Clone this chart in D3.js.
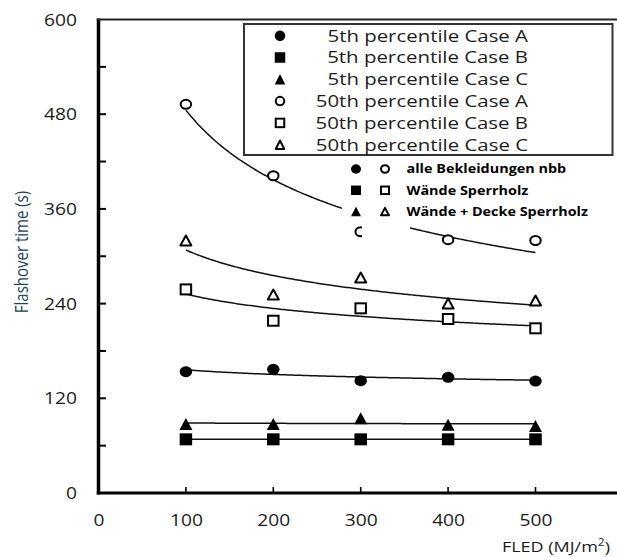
<!DOCTYPE html>
<html>
<head>
<meta charset="utf-8">
<script src="https://cdn.jsdelivr.net/npm/d3@7"></script>
<style>
  html, body { margin: 0; padding: 0; background: #fff; }
  svg { display: block; font-family: "Open Sans", "DejaVu Sans", sans-serif; }
</style>
</head>
<body>
<svg id="chart" width="617" height="557" viewBox="0 0 617 557"></svg>
<script>
// Fire load density (MJ/m²) at which the flashover times were evaluated
const fled = [100, 200, 300, 400, 500];

// Flashover times (s) per case
const p5CaseA  = [153.7, 156.7, 142.3, 146.6, 141.9];
const p5CaseB  = [68, 68, 68, 68, 68];
const p5CaseC  = [87.4, 87.4, 94.6, 86.5, 84.9];
const p50CaseA = [492.5, 402, 331, 321, 320];
const p50CaseB = [258, 218.3, 234, 220.5, 208.7];
const p50CaseC = [320, 251.5, 273, 240, 244];

// Axis ticks
const yMajorTicks = [0, 120, 240, 360, 480, 600];
const yMinorTicks = [60, 180, 300, 420, 540];
const xTickMarks  = [100, 200, 300, 400, 500];
const xTickLabels = [0, 100, 200, 300, 400, 500];

// Legend texts
const legendLabels = [
  "5th percentile Case A", "5th percentile Case B", "5th percentile Case C",
  "50th percentile Case A", "50th percentile Case B", "50th percentile Case C"
];
const groupLabels = ["alle Bekleidungen nbb", "Wände Sperrholz", "Wände + Decke Sperrholz"];

const series = [
  { values: p5CaseA,  shape: "circle",   filled: true  },
  { values: p5CaseB,  shape: "square",   filled: true  },
  { values: p5CaseC,  shape: "triangle", filled: true  },
  { values: p50CaseA, shape: "circle",   filled: false },
  { values: p50CaseB, shape: "square",   filled: false },
  { values: p50CaseC, shape: "triangle", filled: false }
];

const SX = 1.2;           // horizontal glyph stretch
const INK = "#1c1c1c";
const AXIS = "#000000";

const svg = d3.select("#chart");
svg.append("rect").attr("width", 617).attr("height", 557).attr("fill", "#ffffff");

const x = d3.scaleLinear().domain([0, 600]).range([98.5, 622.9]);
const y = d3.scaleLinear().domain([0, 600]).range([493, 19.5]);

// Marker painter: shapes centred on their bounding box
function drawMarker(g, shape, filled, w, h) {
  const sw = filled ? 0 : 2;
  const iw = w - sw, ih = h - sw;
  let el;
  if (shape === "circle") {
    el = g.append("ellipse").attr("rx", iw / 2).attr("ry", ih / 2);
  } else if (shape === "square") {
    el = g.append("rect").attr("x", -iw / 2).attr("y", -ih / 2).attr("width", iw).attr("height", ih);
  } else {
    el = g.append("path")
      .attr("d", `M0,${-ih / 2}L${iw / 2},${ih / 2}L${-iw / 2},${ih / 2}Z`)
      .attr("stroke-linejoin", "round");
  }
  el.attr("fill", filled ? "#000000" : "#ffffff")
    .attr("stroke", filled ? "none" : "#000000")
    .attr("stroke-width", sw);
  return el;
}

const markerSize = {
  circle:   { w: 12.5, h: 11 },
  square:   { w: 12.5, h: 12 },
  triangle: { w: 13,   h: 12 }
};

// Power-law trend line (least squares in log-log space)
function powerFit(xs, ys) {
  const lx = xs.map(Math.log), ly = ys.map(Math.log);
  const mx = d3.mean(lx), my = d3.mean(ly);
  const b = d3.sum(lx, (v, i) => (v - mx) * (ly[i] - my)) / d3.sum(lx, v => (v - mx) ** 2);
  const a = Math.exp(my - b * mx);
  return t => a * Math.pow(t, b);
}

// ---- trend lines
const plot = svg.append("g");
const line = d3.line().x(d => x(d[0])).y(d => y(d[1]));
const xs = d3.range(fled[0], fled[fled.length - 1] + 0.5, 2);
series.forEach(s => {
  const f = powerFit(fled, s.values);
  plot.append("path")
    .attr("d", line(xs.map(t => [t, f(t)])))
    .attr("fill", "none")
    .attr("stroke", "#111111")
    .attr("stroke-width", 1.5);
});

// ---- data markers
series.forEach(s => {
  const sz = markerSize[s.shape];
  s.values.forEach((v, i) => {
    const g = plot.append("g").attr("transform", `translate(${x(fled[i])},${y(v)})`);
    drawMarker(g, s.shape, s.filled, sz.w, sz.h);
  });
});

// ---- axes
const axes = svg.append("g");
const yAxisW = 3.5, xAxisH = 3, topH = 2;

axes.append("rect")       // y axis
  .attr("x", x(0) - yAxisW / 2).attr("y", y(600) - topH / 2)
  .attr("width", yAxisW).attr("height", y(0) - y(600) + topH / 2 + xAxisH / 2)
  .attr("fill", AXIS);
axes.append("rect")       // x axis
  .attr("x", x(0) - yAxisW / 2).attr("y", y(0) - xAxisH / 2)
  .attr("width", x(600) - x(0) + yAxisW / 2).attr("height", xAxisH)
  .attr("fill", AXIS);
axes.append("rect")       // top frame
  .attr("x", x(0) - yAxisW / 2).attr("y", y(600) - topH / 2)
  .attr("width", x(600) - x(0) + yAxisW / 2).attr("height", topH)
  .attr("fill", "#222222");

// inward y ticks
axes.selectAll("rect.ytick")
  .data(yMajorTicks.concat(yMinorTicks).filter(v => v > 0 && v < 600))
  .join("rect").attr("class", "ytick")
  .attr("x", x(0)).attr("width", 7.5)
  .attr("y", d => y(d) - 1).attr("height", 2)
  .attr("fill", AXIS);

// upward x ticks
axes.selectAll("rect.xtick")
  .data(xTickMarks)
  .join("rect").attr("class", "xtick")
  .attr("x", d => x(d) - 0.8).attr("width", 1.6)
  .attr("y", y(0) - 6).attr("height", 6)
  .attr("fill", AXIS);

// y tick labels
const yLabG = axes.append("g").attr("transform", `translate(${x(0)},0)`)
  .call(d3.axisLeft(y).tickValues(yMajorTicks).tickSize(0).tickPadding(0).tickFormat(d3.format("d")));
yLabG.select(".domain").remove();
yLabG.selectAll(".tick line").remove();
yLabG.selectAll("text")
  .attr("x", -21.5 / SX)
  .attr("dy", "0.35em")
  .attr("transform", `scale(${SX},1)`)
  .attr("fill", INK)
  .style("font-size", "16px")
  .style("font-family", "'Open Sans', sans-serif");

// x tick labels
const xLabG = axes.append("g").attr("transform", `translate(0,${y(0)})`)
  .call(d3.axisBottom(x).tickValues(xTickLabels).tickSize(0).tickFormat(d3.format("d")));
xLabG.select(".domain").remove();
xLabG.selectAll(".tick line").remove();
xLabG.selectAll("text")
  .attr("x", 0)
  .attr("y", 27)
  .attr("dy", "0.35em")
  .attr("transform", `scale(${SX},1)`)
  .attr("fill", INK)
  .style("font-size", "16px")
  .style("font-family", "'Open Sans', sans-serif");

// axis titles
svg.append("text")
  .attr("transform", `translate(28,252) scale(${SX},1) rotate(-90)`)
  .attr("text-anchor", "middle")
  .attr("fill", "#243f60")
  .style("font-size", "15px")
  .text("Flashover time (s)");

const xt = svg.append("text")
  .attr("transform", `translate(610,552) scale(${SX},1)`)
  .attr("text-anchor", "end")
  .attr("fill", INK)
  .style("font-size", "15px");
xt.append("tspan").text("FLED (MJ/m");
xt.append("tspan").attr("baseline-shift", "super").style("font-size", "10px").text("2");
xt.append("tspan").text(")");

// ---- group legend (white backing hides what lies beneath it)
const leg2 = svg.append("g");
leg2.append("rect").attr("x", 342).attr("y", 158).attr("width", 260).attr("height", 66).attr("fill", "#ffffff");
leg2.append("rect").attr("x", 362).attr("y", 224).attr("width", 48).attr("height", 14).attr("fill", "#ffffff");
const shapes = ["circle", "square", "triangle"];
groupLabels.forEach((lab, i) => {
  const yy = 169 + i * 21.3;
  drawMarker(leg2.append("g").attr("transform", `translate(356,${yy})`), shapes[i], true, 10, 9.5);
  drawMarker(leg2.append("g").attr("transform", `translate(385,${yy})`), shapes[i], false, 10, 9.5);
  leg2.append("text")
    .attr("transform", `translate(406.5,${yy}) scale(${SX},1)`)
    .attr("dy", "0.35em")
    .attr("fill", "#000000")
    .style("font-size", "12px")
    .style("font-weight", "bold")
    .text(lab);
});

// ---- main legend
const leg1 = svg.append("g");
leg1.append("rect")
  .attr("x", 244).attr("y", 24).attr("width", 368.5).attr("height", 131)
  .attr("fill", "#ffffff").attr("stroke", "#333333").attr("stroke-width", 2);
legendLabels.forEach((lab, i) => {
  const yy = 35.7 + i * 21.8;
  const s = series[i];
  drawMarker(leg1.append("g").attr("transform", `translate(280,${yy})`), s.shape, s.filled, 10.5, 10.5);
  leg1.append("text")
    .attr("transform", `translate(528,${yy}) scale(${SX},1)`)
    .attr("text-anchor", "end")
    .attr("dy", "0.35em")
    .attr("fill", INK)
    .style("font-size", "17px")
    .text(lab);
});
</script>
</body>
</html>
